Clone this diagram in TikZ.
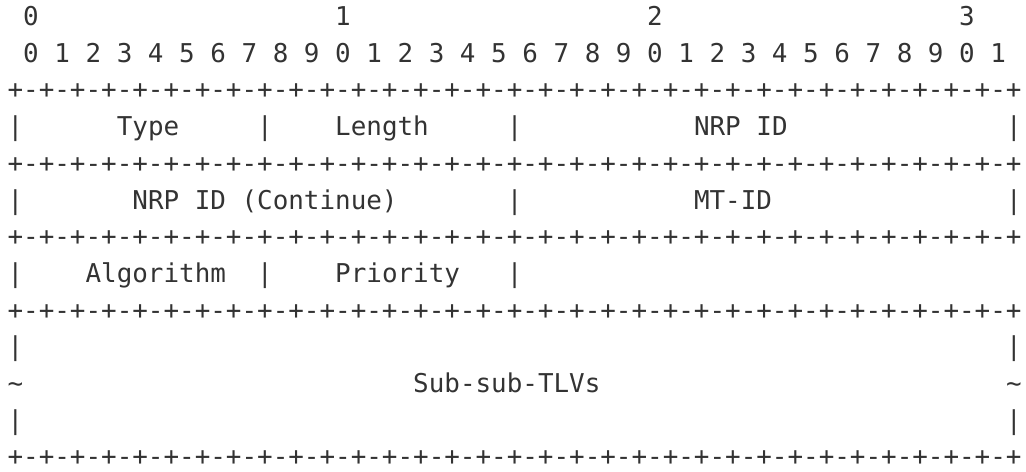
\documentclass[tikz,border=0pt]{standalone}
\usepackage{fontspec}
\newfontfamily\diagmono{DejaVu Sans Mono}
\definecolor{ink}{RGB}{51,51,51}
\newcommand{\colx}[1]{7.2+15.6*(#1)}
\newcommand{\rowy}[1]{25.5+36.7*(#1)}
\tikzset{
  tx/.style={inner sep=0pt, anchor=base west, text=ink, font=\diagmono\fontsize{12.956pt}{15pt}\selectfont},
  seprow/.style={tx, text depth=0pt},
}
\begin{document}
\begin{tikzpicture}[x=0.5pt,y=-0.5pt]
\useasboundingbox (0,0) rectangle (1026,471);
% header
\node[tx] (h0) at ({\colx{1}},{\rowy{0}}) {0};
\node[tx] (h1) at ({\colx{21}},{\rowy{0}}) {1};
\node[tx] (h2) at ({\colx{41}},{\rowy{0}}) {2};
\node[tx] (h3) at ({\colx{61}},{\rowy{0}}) {3};
\node[tx] (bits) at ({\colx{1}},{\rowy{1}}) {0 1 2 3 4 5 6 7 8 9 0 1 2 3 4 5 6 7 8 9 0 1 2 3 4 5 6 7 8 9 0 1};
% separator rows
\foreach \r in {2,4,6,8,12}{
  \node[seprow] (sep\r) at ({\colx{0}},{\rowy{\r}}) {+-+-+-+-+-+-+-+-+-+-+-+-+-+-+-+-+-+-+-+-+-+-+-+-+-+-+-+-+-+-+-+-+};
}
% row 3
\node[tx] (r3a) at ({\colx{0}},{\rowy{3}}) {|};
\node[tx] (type) at ({\colx{7}},{\rowy{3}}) {Type};
\node[tx] (r3b) at ({\colx{16}},{\rowy{3}}) {|};
\node[tx] (length) at ({\colx{21}},{\rowy{3}}) {Length};
\node[tx] (r3c) at ({\colx{32}},{\rowy{3}}) {|};
\node[tx] (nrpid) at ({\colx{44}},{\rowy{3}}) {NRP ID};
\node[tx] (r3d) at ({\colx{64}},{\rowy{3}}) {|};
% row 5
\node[tx] (r5a) at ({\colx{0}},{\rowy{5}}) {|};
\node[tx] (nrpcont) at ({\colx{8}},{\rowy{5}}) {NRP ID (Continue)};
\node[tx] (r5b) at ({\colx{32}},{\rowy{5}}) {|};
\node[tx] (mtid) at ({\colx{44}},{\rowy{5}}) {MT-ID};
\node[tx] (r5c) at ({\colx{64}},{\rowy{5}}) {|};
% row 7
\node[tx] (r7a) at ({\colx{0}},{\rowy{7}}) {|};
\node[tx] (algo) at ({\colx{5}},{\rowy{7}}) {Algorithm};
\node[tx] (r7b) at ({\colx{16}},{\rowy{7}}) {|};
\node[tx] (prio) at ({\colx{21}},{\rowy{7}}) {Priority};
\node[tx] (r7c) at ({\colx{32}},{\rowy{7}}) {|};
% rows 9-11
\node[tx] (r9a) at ({\colx{0}},{\rowy{9}}) {|};
\node[tx] (r9b) at ({\colx{64}},{\rowy{9}}) {|};
\node[tx] (r10a) at ({\colx{0}},{\rowy{10}}) {\textasciitilde};
\node[tx] (subsub) at ({\colx{26}},{\rowy{10}}) {Sub-sub-TLVs};
\node[tx] (r10b) at ({\colx{64}},{\rowy{10}}) {\textasciitilde};
\node[tx] (r11a) at ({\colx{0}},{\rowy{11}}) {|};
\node[tx] (r11b) at ({\colx{64}},{\rowy{11}}) {|};
\end{tikzpicture}
\end{document}
